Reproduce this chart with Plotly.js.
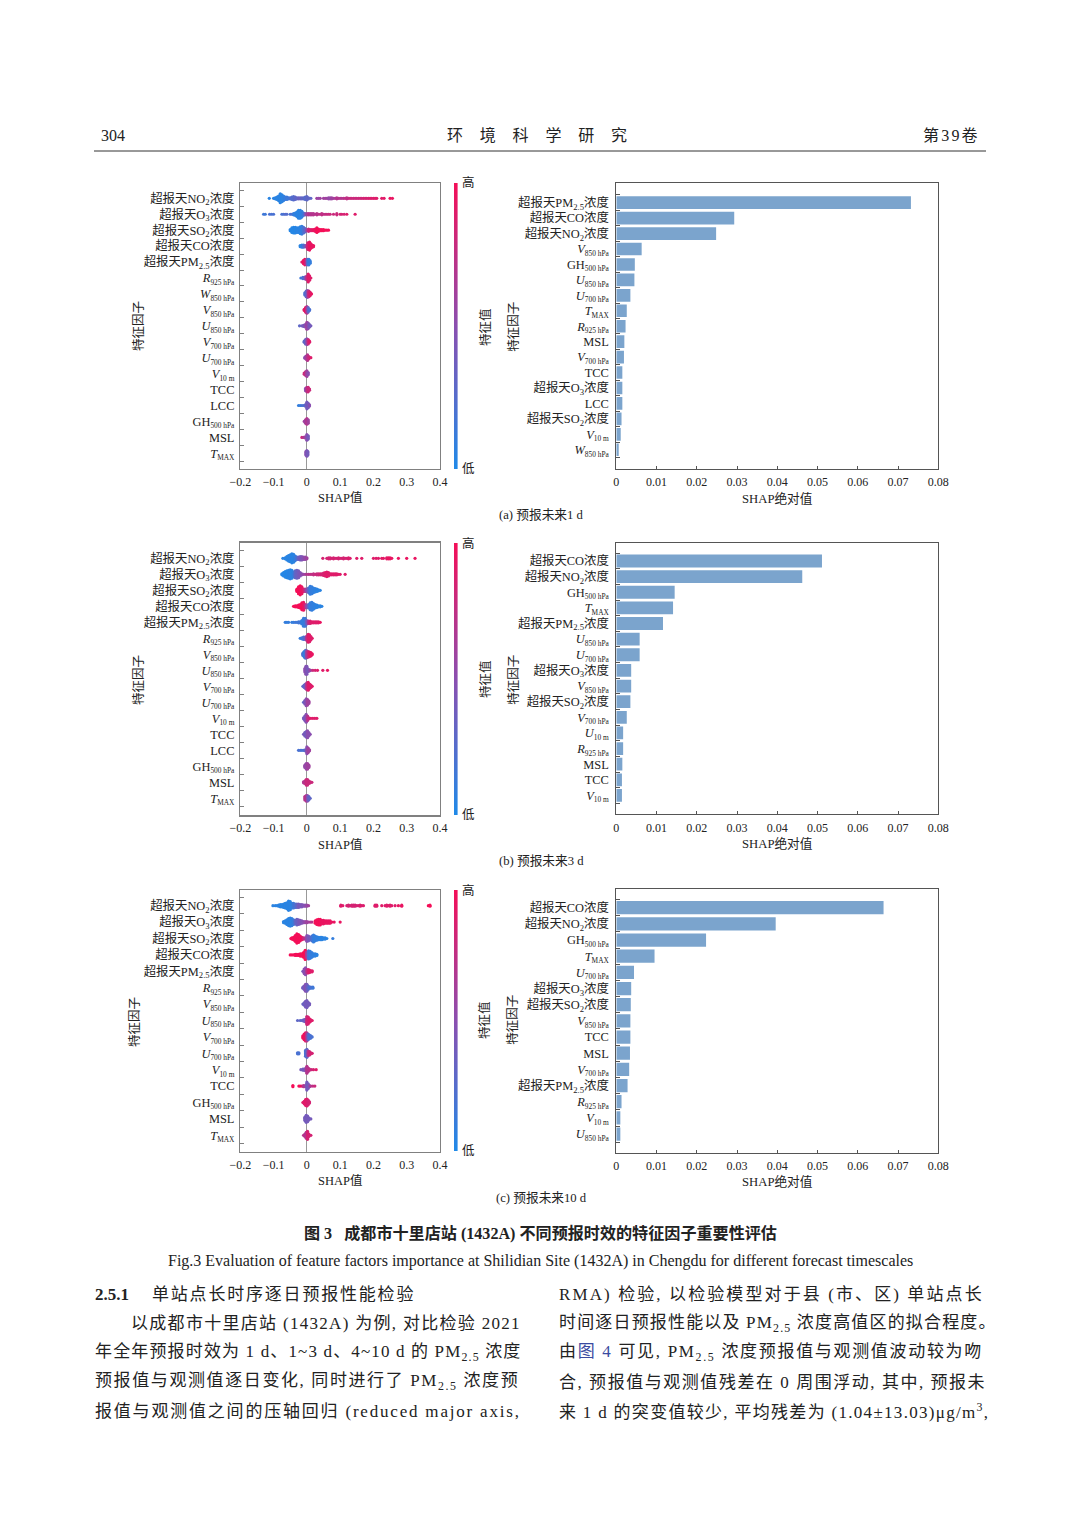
<!DOCTYPE html>
<html><head><meta charset="utf-8">
<script src="https://cdn.plot.ly/plotly-3.0.1.min.js"></script>
<style>html,body{margin:0;padding:0;background:#fff}#g{width:1080px;height:1527px}</style>
</head><body><div id="g"></div>
<script>
const ss=t=>`<sub><span style="font-size:7.4px">${t}</span></sub>`;
const L={NO2:'超报天NO<sub>2</sub>浓度',O3:'超报天O<sub>3</sub>浓度',SO2:'超报天SO<sub>2</sub>浓度',CO:'超报天CO浓度',PM:'超报天PM<sub>2.5</sub>浓度',
R925:'<i>R</i>'+ss('925 hPa'),W850:'<i>W</i>'+ss('850 hPa'),V850:'<i>V</i>'+ss('850 hPa'),U850:'<i>U</i>'+ss('850 hPa'),V700:'<i>V</i>'+ss('700 hPa'),U700:'<i>U</i>'+ss('700 hPa'),
V10:'<i>V</i>'+ss('10 m'),U10:'<i>U</i>'+ss('10 m'),TCC:'TCC',LCC:'LCC',MSL:'MSL',GH:'GH'+ss('500 hPa'),TMAX:'<i>T</i>'+ss('MAX')};

// beeswarm rows, each bin = [SHAP value, stacked points, feature value 0..1]
const swarmRowsA=['NO2','O3','SO2','CO','PM','R925','W850','V850','U850','V700','U700','V10','TCC','LCC','GH','MSL','TMAX'];
const swarmA=[
[[-.113,1,.05],[-.1,1,.05],[-.095,2,.05],[-.09,3,.05],[-.085,5,.05],[-.08,9,.05],[-.075,7,.05],[-.07,5,.08],[-.065,3,.1],[-.06,3,.15],[-.055,2,.15],[-.05,2,.2],[-.045,3,.25],[-.04,4,.25],[-.035,3,.3],[-.03,2,.3],[-.025,2,.35],[-.02,2,.35],[-.015,2,.3],[-.01,2,.3],[-.005,3,.25],[0,4,.3],[.005,2,.3],[.012,1,.3],[.03,1,.6],[.035,1,.55],[.04,1,.6],[.05,1,.6],[.055,1,.6],[.06,1,.6],[.065,2,.55],[.07,2,.55],[.075,2,.6],[.08,1,.6],[.085,1,.65],[.09,2,.7],[.095,1,.7],[.1,1,.7],[.105,1,.7],[.11,1,.7],[.115,1,.75],[.12,2,.75],[.125,1,.75],[.13,1,.8],[.135,1,.8],[.14,1,.8],[.145,1,.8],[.15,1,.8],[.155,1,.8],[.16,1,.82],[.165,1,.82],[.17,1,.85],[.175,1,.85],[.18,1,.85],[.185,1,.85],[.19,1,.88],[.195,1,.88],[.2,1,.88],[.205,1,.9],[.21,1,.9],[.225,1,.9],[.232,1,.92],[.25,1,.95],[.257,1,.95]],
[[-.13,1,.15],[-.125,1,.15],[-.112,1,.2],[-.106,1,.2],[-.1,1,.2],[-.075,1,.2],[-.07,1,.2],[-.065,1,.25],[-.06,1,.25],[-.05,1,.2],[-.045,1,.2],[-.04,2,.1],[-.035,3,.08],[-.03,5,.05],[-.025,8,.05],[-.02,8,.05],[-.015,6,.08],[-.01,3,.15],[-.005,2,.4],[0,2,.6],[.005,2,.7],[.01,2,.7],[.015,2,.7],[.02,2,.7],[.025,1,.7],[.03,2,.72],[.035,1,.72],[.04,1,.75],[.045,2,.75],[.05,1,.75],[.055,1,.75],[.06,1,.78],[.065,1,.78],[.07,1,.8],[.08,1,.8],[.09,2,.8],[.1,1,.85],[.105,1,.85],[.112,1,.85],[.12,1,.9],[.145,1,.9]],
[[-.05,2,.03],[-.045,5,.03],[-.04,6,.03],[-.035,6,.03],[-.03,5,.05],[-.025,5,.05],[-.02,7,.05],[-.015,8,.1],[-.01,6,.2],[-.005,4,.3],[0,2,.55],[.005,3,.8],[.01,2,.85],[.015,2,.9],[.02,2,.95],[.025,3,.95],[.03,5,1],[.035,3,1],[.04,2,1],[.045,2,1],[.05,2,1],[.055,1,1],[.06,1,1],[.065,1,1]],
[[-.02,2,.05],[-.015,3,.1],[-.01,3,.2],[-.005,2,.4],[0,3,.6],[.003,7,.85],[.008,8,.95],[.012,5,.95],[.016,3,.95],[.02,2,.95]],
[[-.015,1,.9],[-.01,4,.95],[-.006,6,.95],[-.002,5,.7],[.002,6,.3],[.006,6,.1],[.01,3,.1]],
[[-.018,1,.15],[-.012,2,.2],[-.008,2,.3],[-.004,3,.5],[0,4,.7],[.004,8,.9],[.008,5,.9],[.012,1,.9]],
[[-.006,3,.2],[-.002,6,.3],[.002,7,.5],[.006,6,.8],[.01,4,.9],[.014,1,.95]],
[[-.008,2,.9],[-.004,5,.95],[0,7,.7],[.004,5,.3],[.008,2,.2]],
[[-.022,1,.3],[-.015,1,.4],[-.01,2,.4],[-.005,3,.5],[0,7,.6],[.004,6,.5],[.008,3,.4],[.012,1,.4]],
[[-.008,2,.3],[-.004,5,.3],[0,6,.5],[.004,5,.8],[.008,2,.9]],
[[-.006,2,.5],[-.002,4,.6],[.002,6,.7],[.006,3,.8],[.012,1,.9]],
[[-.008,2,.8],[-.004,4,.75],[0,6,.6],[.004,3,.5]],
[[-.004,3,.5],[0,5,.7],[.004,5,.8],[.008,2,.8]],
[[-.025,1,.1],[-.02,1,.1],[-.015,1,.2],[-.01,1,.2],[-.005,2,.3],[0,7,.4],[.004,5,.4],[.008,2,.5]],
[[-.008,1,.6],[-.004,4,.6],[0,6,.7],[.004,4,.6]],
[[-.015,1,.8],[-.01,1,.7],[-.005,2,.6],[0,6,.5],[.004,4,.4]],
[[-.003,4,.5],[0,6,.45],[.003,4,.4]]
];
const swarmRowsB=['NO2','O3','SO2','CO','PM','R925','V850','U850','V700','U700','V10','TCC','LCC','GH','MSL','TMAX'];
const swarmB=[
[[-.072,1,.05],[-.065,2,.05],[-.06,4,.05],[-.055,6,.05],[-.05,7,.05],[-.045,9,.05],[-.04,8,.05],[-.035,5,.1],[-.03,3,.2],[-.025,3,.35],[-.02,4,.4],[-.015,4,.45],[-.01,3,.5],[-.005,3,.55],[0,2,.6],[.048,1,.85],[.06,1,.85],[.065,2,.85],[.07,2,.85],[.075,1,.85],[.08,2,.85],[.085,1,.85],[.09,1,.85],[.095,2,.85],[.1,1,.85],[.105,1,.85],[.11,2,.85],[.115,1,.85],[.12,1,.85],[.125,2,.88],[.13,1,.88],[.15,1,.9],[.165,1,.9],[.2,1,.9],[.208,1,.9],[.215,1,.9],[.225,1,.92],[.23,1,.92],[.24,2,.92],[.245,2,.95],[.25,2,.95],[.255,1,.95],[.275,1,.95],[.3,1,.95],[.325,1,.95]],
[[-.075,2,.03],[-.07,4,.03],[-.065,6,.03],[-.06,7,.03],[-.055,8,.05],[-.05,9,.05],[-.045,8,.05],[-.04,5,.1],[-.035,7,.3],[-.03,8,.35],[-.025,7,.4],[-.02,4,.45],[-.015,2,.5],[-.01,1,.55],[-.005,1,.6],[0,1,.7],[.005,1,.7],[.01,1,.75],[.015,1,.75],[.02,2,.75],[.025,1,.8],[.03,2,.8],[.035,2,.8],[.04,2,.85],[.045,2,.85],[.05,3,.85],[.055,4,.9],[.06,5,.9],[.065,4,.9],[.07,2,.9],[.075,2,.9],[.08,2,.9],[.085,2,.9],[.09,2,.9],[.095,1,.9],[.1,1,.9],[.115,1,.9]],
[[-.03,3,1],[-.025,7,1],[-.02,9,1],[-.015,7,.95],[-.01,3,.9],[-.005,3,.7],[0,3,.5],[.005,5,.3],[.01,8,.1],[.015,7,.1],[.02,5,.08],[.025,4,.08],[.03,3,.05],[.035,2,.05],[.04,1,.05]],
[[-.04,1,1],[-.035,2,1],[-.03,2,1],[-.025,3,1],[-.02,4,1],[-.015,7,1],[-.01,8,.95],[-.005,4,.8],[0,3,.5],[.005,4,.3],[.01,7,.1],[.015,8,.1],[.02,6,.08],[.025,4,.08],[.03,3,.05],[.035,2,.05],[.04,2,.05],[.045,1,.05]],
[[-.065,1,.1],[-.06,1,.1],[-.055,1,.1],[-.045,1,.1],[-.04,1,.1],[-.035,1,.15],[-.03,1,.15],[-.025,2,.15],[-.02,2,.15],[-.015,4,.1],[-.01,8,.1],[-.005,8,.15],[0,4,.4],[.005,3,.7],[.01,3,.85],[.015,2,.9],[.02,2,.9],[.025,2,.9],[.03,2,.9],[.035,2,.9],[.04,1,.95]],
[[-.02,1,.1],[-.015,2,.15],[-.01,3,.2],[-.005,3,.35],[0,5,.7],[.004,8,.9],[.008,7,.9],[.012,4,.9],[.016,1,.9]],
[[-.012,3,.2],[-.008,6,.1],[-.004,8,.2],[0,7,.6],[.004,6,.8],[.008,5,.9],[.012,4,.95],[.016,2,.95]],
[[-.006,4,.5],[-.003,8,.5],[0,8,.45],[.004,3,.4],[.008,2,.5],[.012,1,.6],[.018,1,.8],[.025,1,.85],[.032,1,.9],[.048,1,.9],[.062,1,.95]],
[[-.012,1,.3],[-.008,3,.3],[-.004,5,.4],[0,7,.7],[.004,8,.9],[.008,5,.9],[.012,3,.9],[.016,1,.9]],
[[-.01,1,.3],[-.006,4,.4],[-.002,7,.5],[.002,6,.6],[.006,3,.6]],
[[-.01,2,.4],[-.006,5,.4],[-.002,8,.5],[.002,5,.7],[.006,2,.8],[.012,1,.9],[.018,1,.9],[.024,1,.9],[.03,1,.9]],
[[-.01,1,.4],[-.006,4,.4],[-.002,6,.4],[.002,7,.5],[.006,4,.5],[.01,1,.5]],
[[-.025,1,.2],[-.02,1,.2],[-.015,1,.2],[-.01,1,.2],[-.005,2,.3],[0,7,.5],[.004,5,.6],[.008,2,.6]],
[[-.006,3,.55],[-.002,6,.55],[.002,6,.6],[.006,3,.6]],
[[-.01,2,.7],[-.006,3,.7],[-.002,6,.8],[.002,6,.8],[.006,3,.8],[.01,2,.8],[.015,1,.8]],
[[-.006,4,.7],[-.002,6,.7],[.002,6,.5],[.006,4,.3],[.01,1,.3]]
];
const swarmRowsC=['NO2','O3','SO2','CO','PM','R925','V850','U850','V700','U700','V10','TCC','GH','MSL','TMAX'];
const swarmC=[
[[-.102,1,.05],[-.095,1,.05],[-.09,1,.05],[-.085,2,.05],[-.08,3,.05],[-.075,3,.05],[-.07,4,.05],[-.065,5,.05],[-.06,6,.05],[-.055,9,.05],[-.05,8,.05],[-.045,5,.08],[-.04,5,.15],[-.035,4,.2],[-.03,4,.3],[-.025,4,.4],[-.02,3,.4],[-.015,3,.45],[-.01,2,.45],[-.005,2,.5],[0,2,.55],[.005,1,.6],[.102,2,.9],[.108,1,.9],[.12,1,.85],[.125,2,.85],[.13,1,.85],[.135,2,.85],[.14,2,.85],[.145,2,.85],[.15,1,.85],[.155,1,.85],[.16,2,.88],[.165,1,.88],[.17,1,.88],[.205,2,.9],[.21,2,.9],[.225,1,.9],[.235,1,.9],[.24,2,.9],[.245,1,.9],[.25,2,.9],[.255,1,.9],[.265,1,.9],[.275,1,.95],[.285,2,.95],[.365,1,1],[.37,2,1]],
[[-.07,2,.05],[-.065,3,.05],[-.06,5,.05],[-.055,7,.05],[-.05,8,.05],[-.045,7,.08],[-.04,5,.12],[-.035,4,.3],[-.03,6,.35],[-.025,5,.4],[-.02,4,.45],[-.015,3,.45],[-.01,2,.5],[-.005,2,.55],[0,2,.6],[.005,1,.6],[.01,1,.65],[.015,1,.7],[.025,3,1],[.03,5,1],[.035,6,1],[.04,6,1],[.045,4,.95],[.05,4,.95],[.055,3,.95],[.06,3,.95],[.065,3,.95],[.07,3,.95],[.075,1,.95],[.082,1,.95],[.1,1,.95]],
[[-.048,1,1],[-.045,2,1],[-.04,3,1],[-.035,6,1],[-.03,9,1],[-.025,8,1],[-.02,5,1],[-.015,3,.95],[-.01,2,.8],[-.005,2,.7],[0,6,.5],[.005,5,.4],[.01,3,.4],[.015,5,.2],[.02,7,.1],[.025,5,.1],[.03,4,.08],[.035,3,.08],[.04,3,.05],[.045,3,.05],[.05,2,.05],[.055,2,.05],[.06,1,.05],[.078,1,.1]],
[[-.05,1,1],[-.045,1,1],[-.04,1,1],[-.035,2,1],[-.03,2,1],[-.025,2,1],[-.02,3,1],[-.015,3,1],[-.01,5,1],[-.005,9,1],[0,6,.6],[.005,8,.2],[.01,7,.1],[.015,5,.1],[.02,3,.08],[.025,3,.08],[.03,2,.05]],
[[-.012,1,.4],[-.008,5,.5],[-.004,7,.5],[0,4,.7],[.004,4,.85],[.008,3,.9],[.012,2,.9],[.016,2,.9]],
[[-.012,2,.4],[-.008,4,.4],[-.004,7,.5],[0,7,.4],[.004,4,.3],[.008,2,.2],[.012,2,.2],[.018,2,.15]],
[[-.012,1,.35],[-.008,3,.35],[-.004,6,.4],[0,7,.4],[.004,4,.4],[.008,2,.4]],
[[-.028,1,.3],[-.02,1,.3],[-.015,1,.3],[-.01,2,.35],[-.005,3,.4],[0,8,.8],[.004,7,.85],[.008,4,.9],[.012,2,.9],[.016,1,.9]],
[[-.012,3,1],[-.008,6,.95],[-.004,8,.95],[0,8,.7],[.004,6,.3],[.008,4,.2],[.012,3,.2],[.016,1,.2]],
[[-.028,2,.2],[-.024,2,.2],[-.004,6,.2],[0,8,.3],[.004,5,.7],[.008,4,.8],[.012,2,.85],[.016,1,.85]],
[[-.018,1,.4],[-.012,2,.4],[-.008,2,.4],[-.004,3,.5],[0,7,.7],[.004,4,.7],[.008,2,.75],[.014,1,.8],[.02,1,.85],[.028,1,.9]],
[[-.042,2,1],[-.024,1,1],[-.02,1,1],[-.015,1,.9],[-.01,2,.7],[-.005,2,.6],[0,8,.4],[.004,5,.4],[.008,2,.5],[.012,1,.7],[.018,1,.75],[.024,1,.8]],
[[-.012,1,.9],[-.008,3,.9],[-.004,6,.9],[0,7,.9],[.004,5,.85],[.008,2,.85]],
[[-.006,4,.4],[-.002,7,.4],[.002,6,.4],[.006,3,.4],[.012,1,.4]],
[[-.01,1,.7],[-.006,3,.7],[-.002,6,.7],[.002,8,.85],[.006,3,.85],[.012,1,.85]]
];
// mean |SHAP| bars
const barRowsA=['PM','CO','NO2','V850','GH','U850','U700','TMAX','R925','MSL','V700','TCC','O3','LCC','SO2','V10','W850'];
const barValsA=[.0732,.0293,.0248,.0063,.0046,.0045,.0035,.0026,.0023,.002,.0019,.0015,.0015,.0015,.0013,.0011,.0006];
const barRowsB=['CO','NO2','GH','TMAX','PM','U850','U700','O3','V850','SO2','V700','U10','R925','MSL','TCC','V10'];
const barValsB=[.0511,.0462,.0145,.0141,.0116,.0058,.0058,.0037,.0037,.0035,.0026,.0017,.0017,.0015,.0014,.0014];
const barRowsC=['CO','NO2','GH','TMAX','U700','O3','SO2','V850','TCC','MSL','V700','PM','R925','V10','U850'];
const barValsC=[.0664,.0396,.0223,.0095,.0044,.0037,.0036,.0035,.0035,.0034,.0032,.0028,.0013,.001,.001];

const swarmTicks=[-.2,-.1,0,.1,.2,.3,.4], swarmTickText=['−0.2','−0.1','0','0.1','0.2','0.3','0.4'];
const barTicks=[0,.01,.02,.03,.04,.05,.06,.07,.08], barTickText=['0','0.01','0.02','0.03','0.04','0.05','0.06','0.07','0.08'];
const SHAP_SCALE=[[0,'#1f8ae8'],[.5,'#8a4fb0'],[1,'#f40f58']];
const BAR='#7ba4cd';
const FONT='"Liberation Serif","Noto Sans CJK SC",serif';
const scaleSteps=[0,.05,.1,.15,.2,.25,.3,.35,.4,.45,.5,.55,.6,.65,.7,.75,.8,.85,.9,.95,1];

const W=1080,H=1527;
const X=p=>p/W, Y=p=>1-p/H;
const leftP=[
 {rows:swarmRowsA,data:swarmA,top:183.3,bot:468.7,r0:198.3,dr:15.94,cap:[183,469],title:497,ty:326,tx:138,cy:327},
 {rows:swarmRowsB,data:swarmB,top:542.7,bot:815.3,r0:558.3,dr:16,cap:[543,815],title:844,ty:680,tx:138,cy:679},
 {rows:swarmRowsC,data:swarmC,top:890,bot:1151.7,r0:905.7,dr:16.4,cap:[890,1151],title:1180,ty:1022,tx:134,cy:1020}
];
const rightP=[
 {rows:barRowsA,vals:barValsA,top:183.3,bot:469,r0:202.7,dr:15.44,title:498,ty:327},
 {rows:barRowsB,vals:barValsB,top:542.7,bot:814.3,r0:561,dr:15.63,title:843,ty:680},
 {rows:barRowsC,vals:barValsC,top:889.3,bot:1152.7,r0:907.7,dr:16.17,title:1181,ty:1020}
];
const traces=[],anns=[],shapes=[];
const layout={width:W,height:H,margin:{l:0,r:0,t:0,b:0,pad:0},paper_bgcolor:'#fff',plot_bgcolor:'#fff',showlegend:false,font:{family:FONT,color:'#222',size:12},annotations:anns,shapes:shapes};
function txt(x,y,text,o={}){anns.push(Object.assign({xref:'paper',yref:'paper',x:X(x),y:Y(y),text:text,showarrow:false,xanchor:'left',yanchor:'middle',borderpad:0,font:{family:FONT,size:o.size||12,color:o.color||'#222'}},o.extra||{}));}
function axes(idx,P,dom,isLeft){
 const rn=P.rows.length;
 const rng=[(P.bot-P.r0)/P.dr,(P.top-P.r0)/P.dr];
 const col=isLeft?'#808080':'#555';
 layout['xaxis'+idx]={domain:[X(dom[0]),X(dom[1])],anchor:'y'+idx,range:isLeft?[-.2,.4]:[0,.08],tickmode:'array',tickvals:isLeft?swarmTicks:barTicks,ticktext:isLeft?swarmTickText:barTickText,tickangle:0,
  showgrid:false,zeroline:isLeft,zerolinecolor:'#999',zerolinewidth:1,showline:true,mirror:true,linecolor:col,linewidth:isLeft?1.4:1,ticks:isLeft?'':'inside',ticklen:3,tickcolor:col,tickfont:{family:FONT,size:12,color:'#222'},ticklabelstandoff:isLeft?1:2};
 const minorv=[];for(let i=0;i<=rn;i++)minorv.push(i-.5);
 layout['yaxis'+idx]={domain:[Y(P.bot),Y(P.top)],anchor:'x'+idx,range:rng,tickmode:'array',tickvals:P.rows.map((_,i)=>i),ticktext:P.rows.map(k=>L[k]),
  showgrid:false,zeroline:false,showline:true,mirror:true,linecolor:col,linewidth:isLeft?1.4:1,ticks:'',ticklen:0,tickfont:{family:FONT,size:12.4,color:'#222'},ticklabelstandoff:isLeft?2:4,
  minor:{tickmode:'array',tickvals:minorv,ticks:'inside',ticklen:4,tickcolor:col,tickwidth:1,showgrid:false}};
}
leftP.forEach((P,k)=>{
 const xs=[],ys=[],cs=[];
 P.data.forEach((row,i)=>row.forEach(([v,n,c])=>{for(let j=0;j<n;j++){xs.push(v);ys.push(i+(j-(n-1)/2)*.07);cs.push(c);}}));
 const idx=k*2+1;
 traces.push({type:'scatter',mode:'markers',x:xs,y:ys,xaxis:'x'+idx,yaxis:'y'+idx,cliponaxis:true,hoverinfo:'skip',
  marker:{size:3.2,color:cs,cmin:0,cmax:1,colorscale:SHAP_SCALE,line:{width:0},showscale:false}});
 axes(idx,P,[240.3,440],true);
 // colour key drawn as a one-column heatmap on its own hidden axes
 const ci=7+k;
 traces.push({type:'heatmap',z:scaleSteps.map(v=>[v]),x:[0],y:scaleSteps,zmin:0,zmax:1,colorscale:SHAP_SCALE,showscale:false,zsmooth:'best',xaxis:'x'+ci,yaxis:'y'+ci,hoverinfo:'skip'});
 layout['xaxis'+ci]={domain:[X(454),X(457.6)],anchor:'y'+ci,visible:false,fixedrange:true};
 layout['yaxis'+ci]={domain:[Y(P.cap[1]),Y(P.cap[0])],anchor:'x'+ci,visible:false,fixedrange:true,range:[0,1]};
 txt(340,P.title,'SHAP值',{size:12.5,extra:{xanchor:'center'}});
 txt(P.tx,P.ty,'特征因子',{size:12.5,extra:{xanchor:'center',textangle:-90}});
 txt(485,P.cy,'特征值',{size:12.5,extra:{xanchor:'center',textangle:-90}});
 txt(468,P.cap[0],'高',{size:12.5,extra:{xanchor:'center'}});
 txt(468,P.cap[1],'低',{size:12.5,extra:{xanchor:'center'}});
});
rightP.forEach((P,k)=>{
 const idx=k*2+2;
 traces.push({type:'bar',orientation:'h',x:P.vals,y:P.rows.map((_,i)=>i),width:.82,xaxis:'x'+idx,yaxis:'y'+idx,marker:{color:BAR,line:{width:0}},hoverinfo:'skip'});
 axes(idx,P,[616.3,938.3],false);
 txt(777,P.title,'SHAP绝对值',{size:12.7,extra:{xanchor:'center'}});
 txt(512.7,P.ty,'特征因子',{size:12.5,extra:{xanchor:'center',textangle:-90}});
});
// page furniture
const ls=(s,t)=>`<span style="letter-spacing:${s}px">${t}</span>`;
txt(100,135,'304',{size:16});
txt(446,135,ls(16.8,'环境科学研究'),{size:16});
txt(922,135,ls(2.2,'第39卷'),{size:16});
shapes.push({type:'line',xref:'paper',yref:'paper',x0:X(94),x1:X(986),y0:Y(151),y1:Y(151),line:{color:'#333',width:1}});
txt(541,515,'(a) 预报未来1 d',{size:12.7,extra:{xanchor:'center'}});
txt(541,861,'(b) 预报未来3 d',{size:12.7,extra:{xanchor:'center'}});
txt(541,1198,'(c) 预报未来10 d',{size:12.7,extra:{xanchor:'center'}});
txt(540,1233,'<b>图 3   成都市十里店站 (1432A) 不同预报时效的特征因子重要性评估</b>',{size:16.1,extra:{xanchor:'center'}});
txt(540,1261,'Fig.3 Evaluation of feature factors importance at Shilidian Site (1432A) in Chengdu for different forecast timescales',{size:16,extra:{xanchor:'center'}});
txt(94,1294,'<b>2.5.1</b>',{size:17});
txt(151,1294,ls(1.8,'单站点长时序逐日预报性能检验'),{size:17});
const bodyLines=[
 [130,1323.5,1.3,'以成都市十里店站 (1432A) 为例, 对比检验 2021'],
 [93.5,1352.5,1.15,'年全年预报时效为 1 d、1~3 d、4~10 d 的 PM<sub>2.5</sub> 浓度'],
 [93.5,1382,1.6,'预报值与观测值逐日变化, 同时进行了 PM<sub>2.5</sub> 浓度预'],
 [93.5,1411,1.8,'报值与观测值之间的压轴回归 (reduced major axis,'],
 [557.5,1294,2.1,'RMA) 检验, 以检验模型对于县 (市、区) 单站点长'],
 [557.5,1323.5,1.17,'时间逐日预报性能以及 PM<sub>2.5</sub> 浓度高值区的拟合程度。'],
 [557.5,1352.5,1.68,'由<span style="color:#3a4aa0">图 4</span> 可见, PM<sub>2.5</sub> 浓度预报值与观测值波动较为吻'],
 [557.5,1382,1.54,'合, 预报值与观测值残差在 0 周围浮动, 其中, 预报未'],
 [557.5,1411,1.3,'来 1 d 的突变值较少, 平均残差为 (1.04±13.03)μg/m<sup>3</sup>,']
];
bodyLines.forEach(([x,y,s,t])=>txt(x,y,ls(s,t),{size:17}));
Plotly.newPlot('g',traces,layout,{staticPlot:true,displayModeBar:false});
</script></body></html>
